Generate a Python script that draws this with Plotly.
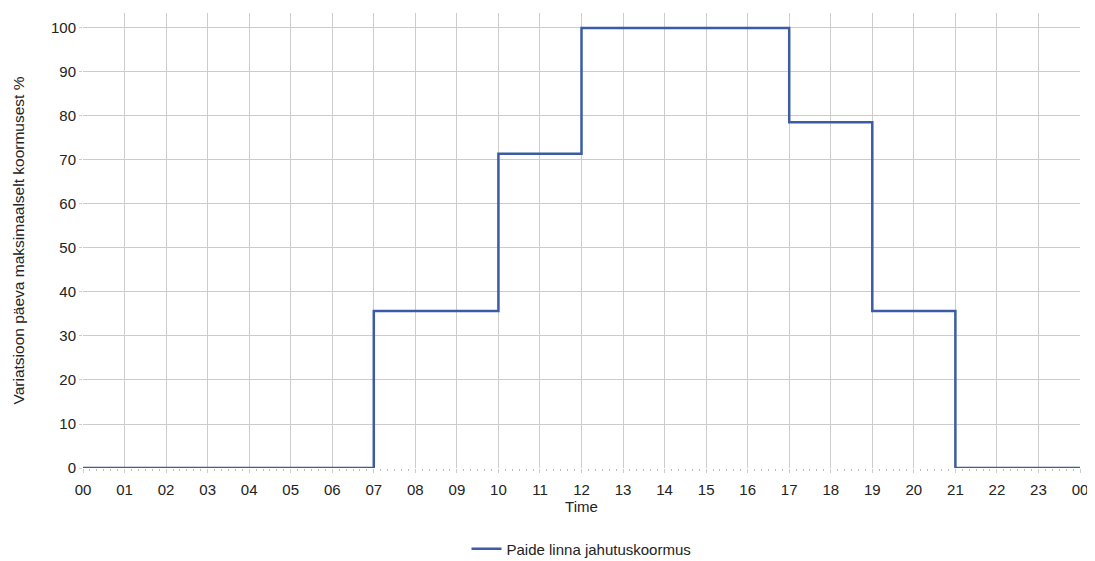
import plotly.graph_objects as go

hours = [0, 7, 10, 12, 17, 19, 21, 24]
values = [0, 35.7, 71.4, 100, 78.6, 35.7, 0, 0]
tick_vals = list(range(0, 25))
tick_labels = ["%02d" % (h % 24) for h in tick_vals]
series_name = "Paide linna jahutuskoormus"

fig = go.Figure()
fig.add_trace(go.Scatter(
    x=hours, y=values, mode="lines", line_shape="hv",
    line=dict(color="#3b5ca5", width=2.5), name=series_name,
))

fig.update_layout(
    width=1087, height=553,
    margin=dict(l=75, r=15, t=5, b=93, autoexpand=False),
    paper_bgcolor="white", plot_bgcolor="white",
    font=dict(family="Liberation Sans, Arial, sans-serif", size=15, color="#222222"),
    showlegend=True,
    legend=dict(orientation="h", x=0.5, xanchor="center", y=-0.142, yanchor="top",
                font=dict(size=15)),
    xaxis=dict(
        range=[0, 24], tickmode="array", tickvals=tick_vals, ticktext=tick_labels,
        showgrid=True, gridcolor="#cccccc", gridwidth=1,
        zeroline=False, showline=False, automargin=False,
        ticks="outside", ticklen=4, tickcolor="#cccccc", ticklabelstandoff=4,
        minor=dict(dtick=1/6, ticks="outside", ticklen=2, tickcolor="#bbbbbb", showgrid=False),
        title=dict(text="Time", standoff=2, font=dict(size=15)),
    ),
    yaxis=dict(
        range=[0, 103.4], tickmode="array", tickvals=list(range(0, 101, 10)),
        showgrid=True, gridcolor="#cccccc", gridwidth=1,
        zeroline=False, showline=False, automargin=False,
        ticks="outside", ticklen=3, tickcolor="#cccccc",
        title=dict(text="Variatsioon päeva maksimaalselt koormusest %", standoff=22, font=dict(size=15.5)),
    ),
)

fig.write_html("out.html")
